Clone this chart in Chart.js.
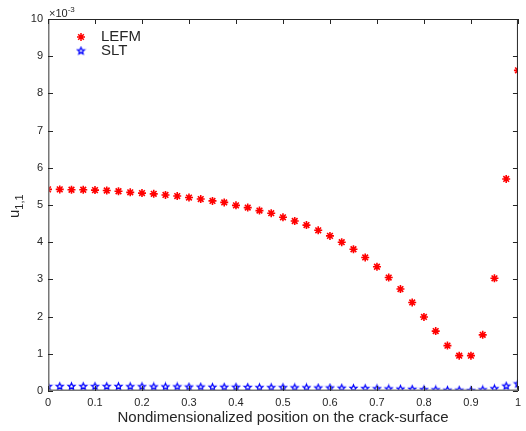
<!DOCTYPE html>
<html>
<head>
<meta charset="utf-8">
<script src="https://cdn.jsdelivr.net/npm/chart.js@4.4.0/dist/chart.umd.min.js"></script>
<style>
  body { margin: 0; background: #fff; }
</style>
</head>
<body>
<canvas id="uChart" width="526" height="431"></canvas>
<script>
// positions along the crack surface
const positions = [0, 0.025, 0.05, 0.075, 0.1, 0.125, 0.15, 0.175, 0.2, 0.225,
  0.25, 0.275, 0.3, 0.325, 0.35, 0.375, 0.4, 0.425, 0.45, 0.475,
  0.5, 0.525, 0.55, 0.575, 0.6, 0.625, 0.65, 0.675, 0.7, 0.725,
  0.75, 0.775, 0.8, 0.825, 0.85, 0.875, 0.9, 0.925, 0.95, 0.975, 1];

// values in units of 1e-3
const lefm = [5.42, 5.42, 5.41, 5.41, 5.40, 5.39, 5.37, 5.34, 5.32, 5.30,
  5.27, 5.24, 5.20, 5.16, 5.11, 5.07, 4.99, 4.93, 4.85, 4.78,
  4.67, 4.57, 4.46, 4.32, 4.17, 4.00, 3.81, 3.59, 3.34, 3.05,
  2.74, 2.38, 1.99, 1.61, 1.22, 0.95, 0.95, 1.51, 3.03, 5.70, 8.62];

const slt = [0.12, 0.12, 0.12, 0.12, 0.12, 0.12, 0.12, 0.115, 0.115, 0.11,
  0.11, 0.11, 0.105, 0.105, 0.10, 0.10, 0.10, 0.095, 0.09, 0.09,
  0.09, 0.085, 0.085, 0.08, 0.08, 0.075, 0.07, 0.065, 0.06, 0.055,
  0.05, 0.045, 0.035, 0.03, 0.02, 0.02, 0.01, 0.03, 0.06, 0.13, 0.19];

const xTicks = [0, 0.1, 0.2, 0.3, 0.4, 0.5, 0.6, 0.7, 0.8, 0.9, 1];
const yTicks = [0, 1, 2, 3, 4, 5, 6, 7, 8, 9, 10];

const FONT = "'Liberation Sans', Arial, sans-serif";
const TEXT = "#262626";

// blue pentagram marker
function makePentagram(r, color) {
  const size = Math.ceil(r * 2 + 3);
  const cv = document.createElement("canvas");
  cv.width = size;
  cv.height = size;
  const g = cv.getContext("2d");
  const c = size / 2;
  g.beginPath();
  for (let i = 0; i < 10; i++) {
    const rad = i % 2 === 0 ? r : r * 0.45;
    const a = -Math.PI / 2 + (i * Math.PI) / 5;
    const px = c + rad * Math.cos(a);
    const py = c + rad * Math.sin(a);
    if (i === 0) g.moveTo(px, py);
    else g.lineTo(px, py);
  }
  g.closePath();
  g.strokeStyle = color;
  g.lineWidth = 1.3;
  g.stroke();
  return cv;
}
const pentagram = makePentagram(3.6, "#0000ff");

function drawAsterisk(ctx, x, y, r, color) {
  ctx.save();
  ctx.strokeStyle = color;
  ctx.lineWidth = 1.5;
  ctx.beginPath();
  for (let i = 0; i < 4; i++) {
    const a = (i * Math.PI) / 4;
    ctx.moveTo(x - r * Math.cos(a), y - r * Math.sin(a));
    ctx.lineTo(x + r * Math.cos(a), y + r * Math.sin(a));
  }
  ctx.stroke();
  ctx.restore();
}

const decorations = {
  id: "decorations",
  afterDraw(chart) {
    const ctx = chart.ctx;
    const a = chart.chartArea;
    const xs = chart.scales.x;
    const ys = chart.scales.y;
    ctx.save();

    // frame: top and right dark, left and bottom grey
    ctx.strokeStyle = "#262626";
    ctx.lineWidth = 1;
    ctx.beginPath();
    ctx.moveTo(a.left, a.top + 0.5);
    ctx.lineTo(a.right - 0.5, a.top + 0.5);
    ctx.lineTo(a.right - 0.5, a.bottom);
    ctx.stroke();
    ctx.strokeStyle = "#777777";
    ctx.lineWidth = 1.5;
    ctx.beginPath();
    ctx.moveTo(a.left + 0.75, a.top);
    ctx.lineTo(a.left + 0.75, a.bottom - 0.75);
    ctx.lineTo(a.right, a.bottom - 0.75);
    ctx.stroke();

    // inward tick marks on all four sides
    ctx.strokeStyle = "#262626";
    ctx.lineWidth = 1;
    ctx.beginPath();
    xTicks.forEach((v) => {
      const px = Math.round(xs.getPixelForValue(v)) + 0.5;
      ctx.moveTo(px, a.bottom);
      ctx.lineTo(px, a.bottom - 5);
      ctx.moveTo(px, a.top);
      ctx.lineTo(px, a.top + 5);
    });
    yTicks.forEach((v) => {
      const py = Math.round(ys.getPixelForValue(v)) + 0.5;
      ctx.moveTo(a.left, py);
      ctx.lineTo(a.left + 5, py);
      ctx.moveTo(a.right, py);
      ctx.lineTo(a.right - 5, py);
    });
    ctx.stroke();

    // exponent label
    ctx.fillStyle = TEXT;
    ctx.textBaseline = "alphabetic";
    ctx.textAlign = "left";
    ctx.font = "11px " + FONT;
    ctx.fillText("\u00d710", a.left + 1, a.top - 2);
    const w = ctx.measureText("\u00d710").width;
    ctx.font = "8px " + FONT;
    ctx.fillText("-3", a.left + 1 + w, a.top - 7);

    // y axis title
    ctx.save();
    ctx.translate(19, 218);
    ctx.rotate(-Math.PI / 2);
    ctx.font = "15px " + FONT;
    ctx.fillText("u", 0, 0);
    const uw = ctx.measureText("u").width;
    ctx.font = "11px " + FONT;
    ctx.fillText("1,1", uw, 4);
    ctx.restore();

    // legend
    drawAsterisk(ctx, 81, 37, 4, "#ff0000");
    ctx.drawImage(pentagram, 81 - pentagram.width / 2, 51 - pentagram.height / 2);
    ctx.font = "15px " + FONT;
    ctx.textBaseline = "middle";
    ctx.fillText("LEFM", 101, 37);
    ctx.fillText("SLT", 101, 51);

    ctx.restore();
  },
};

const ctx = document.getElementById("uChart").getContext("2d");
const uChart = new Chart(ctx, {
  type: "scatter",
  data: {
    datasets: [
      {
        label: "LEFM",
        data: positions.map((x, i) => ({ x: x, y: lefm[i] })),
        pointStyle: "star",
        pointRadius: 4,
        borderColor: "#ff0000",
        backgroundColor: "#ff0000",
        borderWidth: 1.6,
        showLine: false,
      },
      {
        label: "SLT",
        data: positions.map((x, i) => ({ x: x, y: slt[i] })),
        pointStyle: pentagram,
        pointRadius: 3.6,
        borderColor: "#0000ff",
        showLine: false,
      },
    ],
  },
  options: {
    responsive: false,
    animation: false,
    layout: { padding: { left: 0, top: 19, right: 4, bottom: 0 } },
    plugins: {
      legend: { display: false },
      tooltip: { enabled: false },
    },
    scales: {
      x: {
        type: "linear",
        min: 0,
        max: 1,
        afterBuildTicks: (s) => { s.ticks = xTicks.map((v) => ({ value: v })); },
        afterFit: (s) => { s.height = 40; },
        grid: { display: false, drawTicks: false },
        border: { display: false },
        ticks: {
          color: TEXT,
          padding: 5,
          maxRotation: 0,
          font: { family: FONT, size: 11 },
          callback: (v) => String(v),
        },
        title: {
          display: true,
          text: "Nondimensionalized position on the crack-surface",
          color: TEXT,
          padding: { top: 0, bottom: 4 },
          font: { family: FONT, size: 15 },
        },
      },
      y: {
        min: 0,
        max: 10,
        afterBuildTicks: (s) => { s.ticks = yTicks.map((v) => ({ value: v })); },
        afterFit: (s) => { s.width = 48; },
        grid: { display: false, drawTicks: false },
        border: { display: false },
        ticks: {
          color: TEXT,
          padding: 5,
          font: { family: FONT, size: 11 },
          callback: (v) => String(v),
        },
      },
    },
  },
  plugins: [decorations],
});
</script>
</body>
</html>
